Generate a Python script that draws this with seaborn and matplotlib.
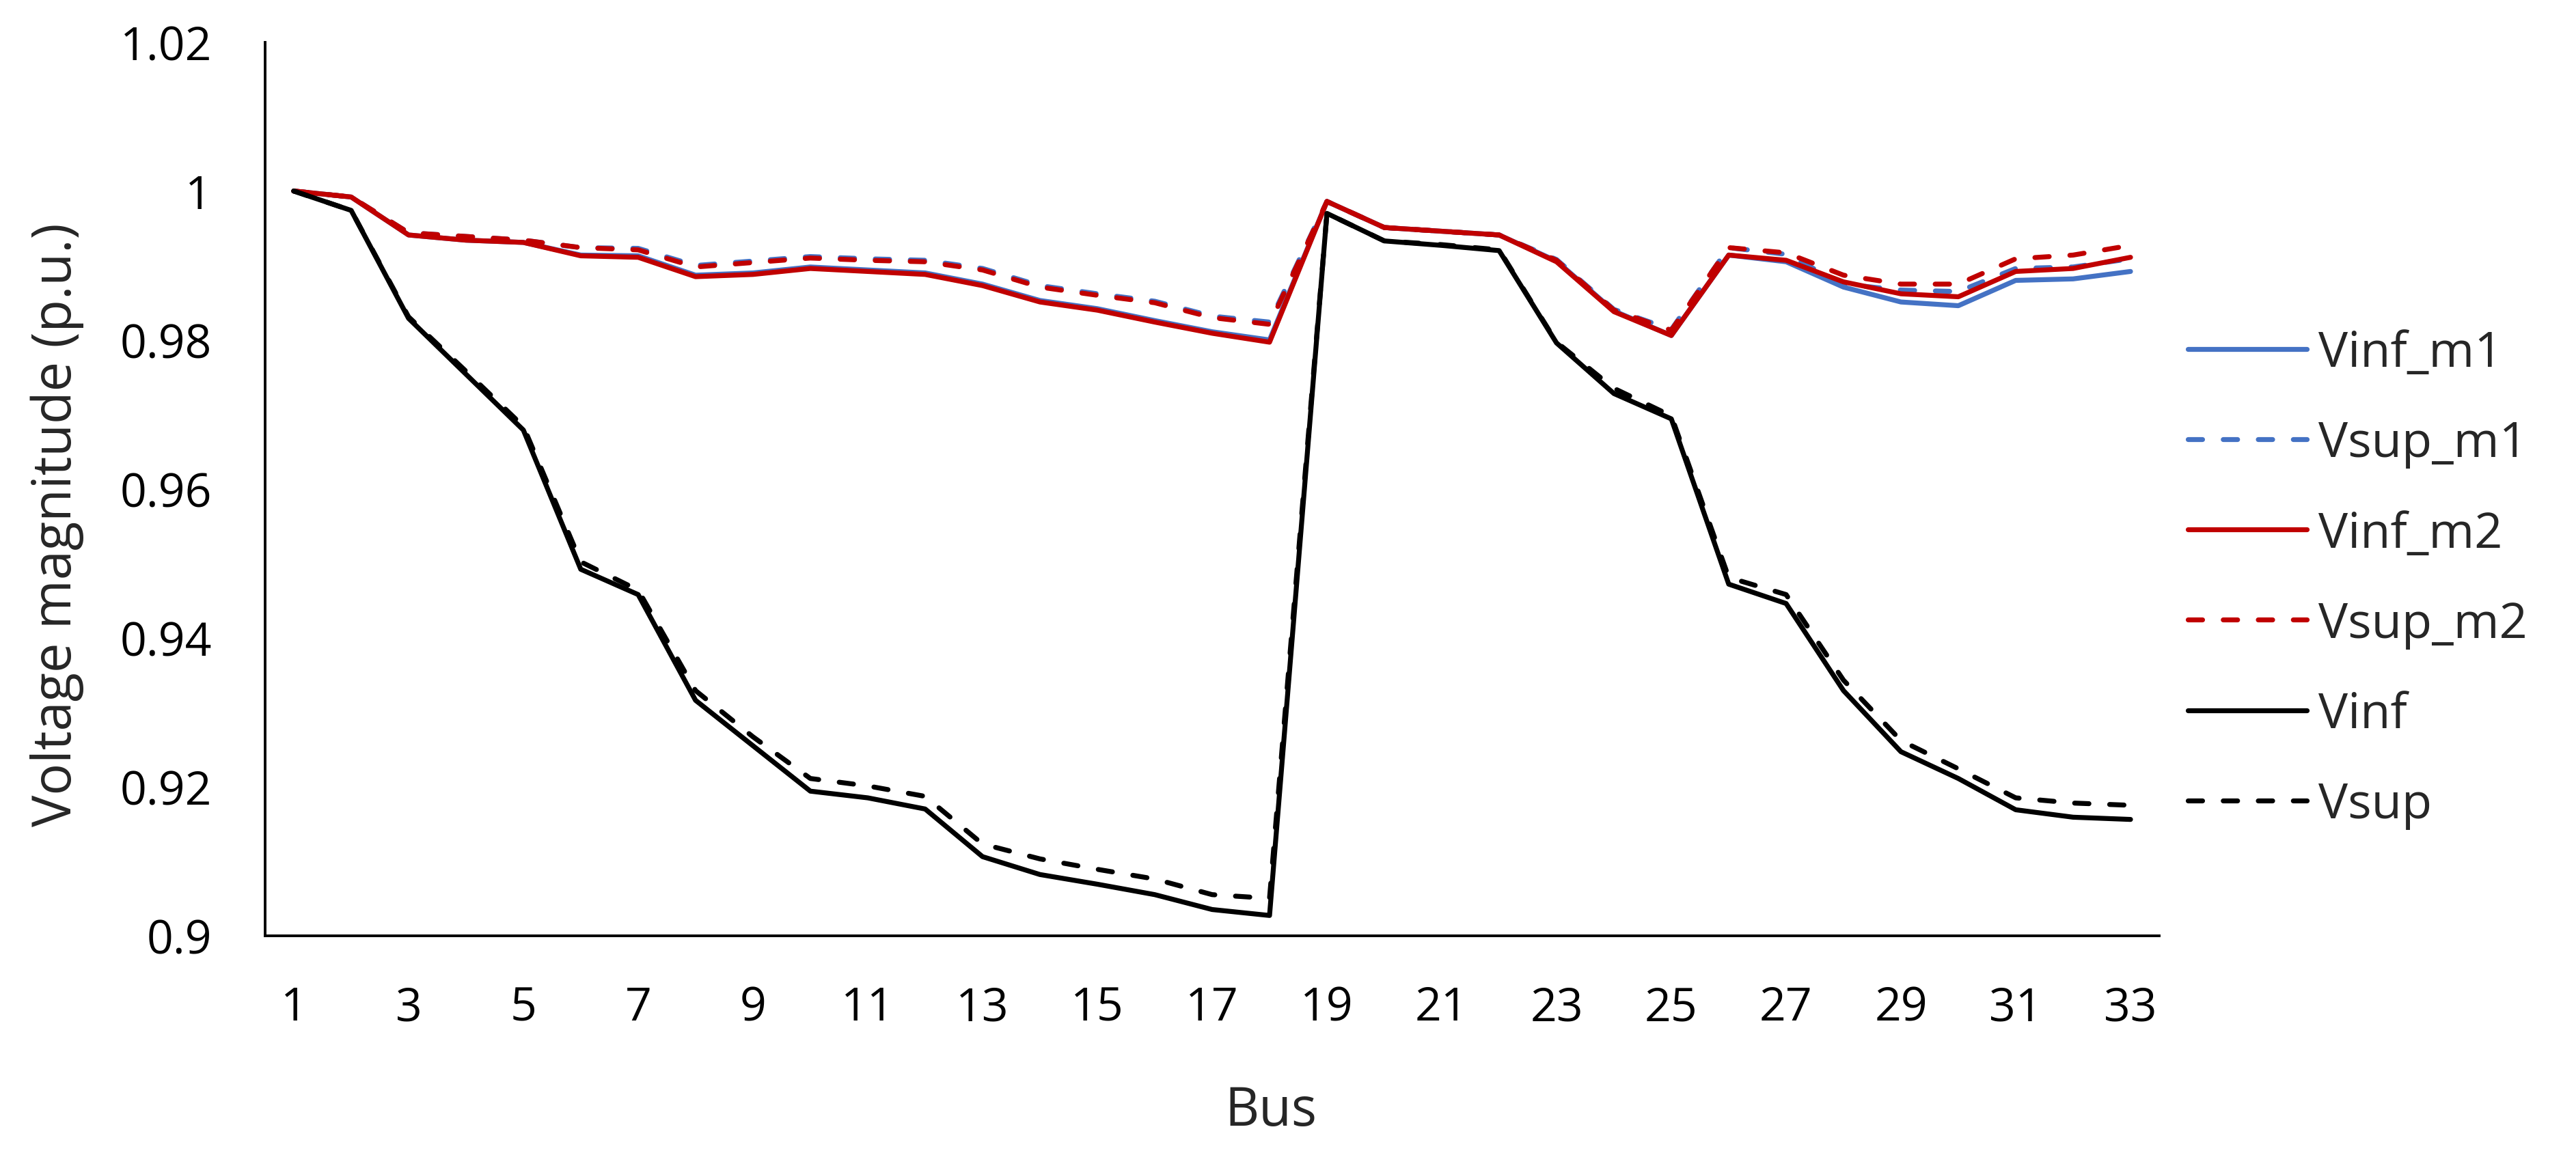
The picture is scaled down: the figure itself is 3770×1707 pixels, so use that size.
import numpy as np
import pandas as pd
import matplotlib
matplotlib.use("Agg")
import matplotlib.pyplot as plt
import seaborn as sns

bus = list(range(1, 34))

vinf_m1 = [1.0, 0.9992, 0.9941, 0.9934, 0.9931, 0.9914, 0.9913, 0.9887, 0.9890, 0.9898,
           0.9894, 0.9890, 0.9875, 0.9853, 0.9842, 0.9826, 0.9811, 0.9800, 0.9986, 0.9951,
           0.9946, 0.9941, 0.9906, 0.9839, 0.9806, 0.9914, 0.9905, 0.9871, 0.9851, 0.9846,
           0.9880, 0.9882, 0.9892]
vsup_m1 = [1.0, 0.9992, 0.9944, 0.9939, 0.9934, 0.9924, 0.9923, 0.9900, 0.9906, 0.9912,
           0.9909, 0.9907, 0.9896, 0.9873, 0.9862, 0.9852, 0.9832, 0.9824, 0.9986, 0.9951,
           0.9946, 0.9941, 0.9908, 0.9841, 0.9814, 0.9924, 0.9915, 0.9875, 0.9867, 0.9865,
           0.9896, 0.9898, 0.9909]
vinf_m2 = [1.0, 0.9992, 0.9941, 0.9934, 0.9931, 0.9913, 0.9911, 0.9885, 0.9888, 0.9896,
           0.9892, 0.9888, 0.9873, 0.9851, 0.9840, 0.9824, 0.9809, 0.9797, 0.9986, 0.9951,
           0.9946, 0.9941, 0.9905, 0.9838, 0.9806, 0.9914, 0.9907, 0.9878, 0.9862, 0.9858,
           0.9892, 0.9896, 0.9911]
vsup_m2 = [1.0, 0.9992, 0.9944, 0.9939, 0.9934, 0.9924, 0.9921, 0.9898, 0.9904, 0.9910,
           0.9907, 0.9905, 0.9894, 0.9871, 0.9860, 0.9850, 0.9830, 0.9821, 0.9986, 0.9951,
           0.9946, 0.9941, 0.9907, 0.9840, 0.9813, 0.9924, 0.9917, 0.9887, 0.9875, 0.9875,
           0.9909, 0.9914, 0.9927]
vinf = [1.0, 0.9974, 0.9829, 0.9754, 0.9679, 0.9492, 0.9458, 0.9316, 0.9255, 0.9194,
        0.9185, 0.9170, 0.9106, 0.9082, 0.9069, 0.9055, 0.9035, 0.9027, 0.9970, 0.9933,
        0.9927, 0.9920, 0.9796, 0.9728, 0.9694, 0.9472, 0.9446, 0.9329, 0.9247, 0.9211,
        0.9169, 0.9159, 0.9156]
vsup = [1.0, 0.9974, 0.9831, 0.9758, 0.9684, 0.9502, 0.9464, 0.9329, 0.9267, 0.9211,
        0.9201, 0.9187, 0.9123, 0.9103, 0.9089, 0.9076, 0.9055, 0.9050, 0.9970, 0.9933,
        0.9928, 0.9921, 0.9797, 0.9735, 0.9698, 0.9481, 0.9458, 0.9343, 0.9262, 0.9224,
        0.9185, 0.9178, 0.9175]

series_names = ["Vinf_m1", "Vsup_m1", "Vinf_m2", "Vsup_m2", "Vinf", "Vsup"]
series_values = [vinf_m1, vsup_m1, vinf_m2, vsup_m2, vinf, vsup]
colors = ["#4472C4", "#4472C4", "#C00000", "#C00000", "#000000", "#000000"]
dashed = [False, True, False, True, False, True]

xticks = list(range(1, 34, 2))
yticks = [0.9, 0.92, 0.94, 0.96, 0.98, 1.0, 1.02]
ytick_labels = ["0.9", "0.92", "0.94", "0.96", "0.98", "1", "1.02"]

df = pd.concat([pd.DataFrame({"Bus": bus, "V": v, "series": n})
                for n, v in zip(series_names, series_values)], ignore_index=True)

sns.set_theme(style="white")
plt.rcParams["font.family"] = ["Open Sans", "DejaVu Sans"]

fig = plt.figure(figsize=(18.85, 8.54), dpi=200)
ax = fig.add_axes([0.1029, 0.1975, 0.7353, 0.7658])

LW = 2.6
palette = dict(zip(series_names, colors))
dashes = {n: ((2.9, 4.2) if d else "") for n, d in zip(series_names, dashed)}
sns.lineplot(data=df, x="Bus", y="V", hue="series", style="series",
             palette=palette, dashes=dashes, hue_order=series_names,
             style_order=series_names, linewidth=LW, ax=ax, legend=True)

for line in ax.get_lines():
    line.set_dash_capstyle("round")
    line.set_solid_capstyle("round")
    line.set_solid_joinstyle("round")

ax.set_xlim(0.5, 33.5)
ax.set_ylim(0.9, 1.02)
ax.set_xticks(xticks)
ax.set_xticklabels([str(t) for t in xticks])
ax.set_yticks(yticks)
ax.set_yticklabels(ytick_labels)
ax.tick_params(axis="both", length=0, labelsize=24.5, colors="#000000")
ax.tick_params(axis="y", pad=28)
ax.tick_params(axis="x", pad=26)

for s in ["top", "right"]:
    ax.spines[s].set_visible(False)
for s in ["left", "bottom"]:
    ax.spines[s].set_color("#000000")
    ax.spines[s].set_linewidth(1.4)

ax.set_xlabel("Bus", fontsize=28)
ax.set_ylabel("Voltage magnitude (p.u.)", fontsize=28)
ax.xaxis.set_label_coords(0.531, -0.166)
ax.yaxis.set_label_coords(-0.0955, 0.461)

handles, labels = ax.get_legend_handles_labels()
ax.get_legend().remove()
for h in handles:
    h.set_linewidth(LW)
    h.set_dash_capstyle("round")
    h.set_solid_capstyle("round")
leg = fig.legend(handles, labels, loc="center left", bbox_to_anchor=(0.8493, 0.503),
                 frameon=False, fontsize=26, labelspacing=0.84, handlelength=2.41,
                 handletextpad=0.235, borderpad=0, borderaxespad=0)

fig.savefig("out.png", dpi=200, facecolor="white")
